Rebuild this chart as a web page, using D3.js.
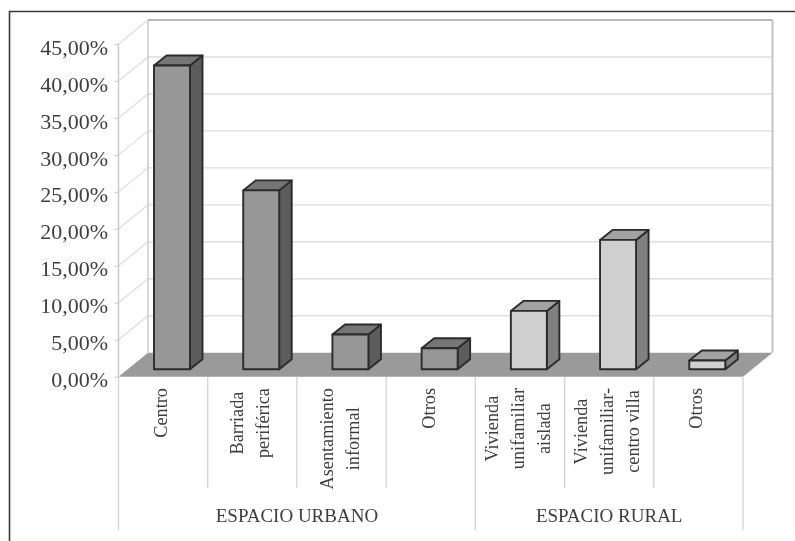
<!DOCTYPE html>
<html><head><meta charset="utf-8">
<script src="https://cdnjs.cloudflare.com/ajax/libs/d3/7.8.5/d3.min.js"></script>
<style>html,body{margin:0;padding:0;background:#fff}svg{display:block;filter:blur(.45px)}text{font-family:"Liberation Serif",serif;fill:#3e3e3e}</style>
</head><body><svg id="c" width="795" height="541"></svg>
<script>
const categories = [["Centro"],["Barriada","periférica"],["Asentamiento","informal"],["Otros"],["Vivienda","unifamiliar","aislada"],["Vivienda","unifamiliar-","centro villa"],["Otros"]];
const values = [41.1,24.2,4.7,2.85,7.9,17.5,1.2];
const groupNames = ["ESPACIO URBANO","ESPACIO RURAL"];
const groupSizes = [4,3];
const isRural = [false,false,false,false,true,true,true];
const yTicks = [0,5,10,15,20,25,30,35,40,45];

const svg = d3.select("#c");
const W=795,H=541, dx=29.5, dy=-24, bx=12.5, by=-10;
const x = d3.scaleBand().domain(d3.range(categories.length)).range([118.5,743]);
const y = d3.scaleLinear().domain([0,45]).range([376.7,44]);
const fmt = v => v.toFixed(2).replace(".",",")+"%";

// frame
svg.append("path").attr("d",`M9.5,${H}V11.5H${W}`).attr("fill","none").attr("stroke","#3a3a3a").attr("stroke-width",1.6);

// walls
const g = svg.append("g");
g.selectAll(".gl").data(yTicks.filter(d=>d>0 && d<45)).join("line")
  .attr("x1",x.range()[0]+dx).attr("x2",x.range()[1]+dx)
  .attr("y1",d=>y(d)+dy).attr("y2",d=>y(d)+dy).attr("stroke","#dedede").attr("stroke-width",1.4);
g.selectAll(".dg").data(yTicks.filter(d=>d>0)).join("line")
  .attr("x1",x.range()[0]).attr("x2",x.range()[0]+dx)
  .attr("y1",d=>y(d)).attr("y2",d=>y(d)+dy).attr("stroke","#dcdcdc").attr("stroke-width",1.2);
g.append("line").attr("x1",x.range()[0]+dx).attr("x2",x.range()[1]+dx).attr("y1",y(45)+dy).attr("y2",y(45)+dy).attr("stroke","#b8b8b8").attr("stroke-width",2);
g.append("line").attr("x1",x.range()[0]+dx).attr("x2",x.range()[0]+dx).attr("y1",y(45)+dy).attr("y2",y(0)+dy).attr("stroke","#c8c8c8").attr("stroke-width",1.4);
g.append("line").attr("x1",x.range()[1]+dx).attr("x2",x.range()[1]+dx).attr("y1",y(45)+dy).attr("y2",y(0)+dy).attr("stroke","#c4c4c4").attr("stroke-width",2);

// floor
const [x0,x1]=x.range();
svg.append("path").attr("d",`M${x0},${y(0)}L${x0+dx},${y(0)+dy}H${x1+dx}L${x1},${y(0)}Z`).attr("fill","#9a9a9a");

// y axis
const ax = svg.append("g").attr("transform",`translate(${x0},0)`)
  .call(d3.axisLeft(y).tickValues(yTicks).tickFormat(fmt).tickSize(4).tickPadding(6.5));
ax.select(".domain").attr("stroke","#c8c8c8").attr("stroke-width",1.4).attr("d",`M0,${y(45)}V${y(0)}`);
ax.selectAll(".tick line").attr("stroke","#c8c8c8");
ax.selectAll("text").attr("font-size",22).attr("font-family",'"Liberation Serif",serif').attr("fill","#3e3e3e").attr("dy","0.46em");

// bars
const barW=36, barOff=35.5, baseLift=7.4;
const bars = svg.selectAll(".bar").data(values).join("g").attr("class","bar")
  .attr("stroke","#2b2b2b").attr("stroke-width",1.9).attr("stroke-linejoin","round");
const barLeft=(d,i)=>x(i)+barOff, barTop=d=>y(d)-baseLift, barBase=y(0)-baseLift;
bars.append("path").attr("d",(d,i)=>`M${barLeft(d,i)+barW},${barTop(d)}l${bx},${by}V${barBase+by}l${-bx},${-by}Z`)
  .attr("fill",(d,i)=>isRural[i]?"#808080":"#5c5c5c");
bars.append("path").attr("d",(d,i)=>`M${barLeft(d,i)},${barTop(d)}l${bx},${by}h${barW}l${-bx},${-by}Z`)
  .attr("fill",(d,i)=>isRural[i]?"#a2a2a2":"#767676");
bars.append("rect").attr("x",barLeft).attr("y",barTop).attr("width",barW).attr("height",d=>barBase-barTop(d))
  .attr("fill",(d,i)=>isRural[i]?"#cfcfcf":"#979797");

// category dividers
const dividerStroke="#d2d2d2";
const groupEnds=d3.cumsum(groupSizes);
const longEdges=[0,...groupEnds];
const allEdges=d3.range(categories.length+1);
svg.selectAll(".dv").data(allEdges).join("line")
  .attr("x1",i=>x0+i*x.step()).attr("x2",i=>x0+i*x.step())
  .attr("y1",y(0)).attr("y2",i=>longEdges.includes(i)?530:488)
  .attr("stroke",dividerStroke).attr("stroke-width",1.3);

// category labels
const lineGap=26, labelTop=388;
categories.forEach((lines,i)=>{
  const cx=x(i)+x.bandwidth()/2-2;
  const gl=svg.append("g");
  const ts=gl.selectAll("text").data(lines).join("text")
    .attr("font-size",18.3).attr("text-anchor","middle").attr("dominant-baseline","central").text(d=>d);
  const maxLen=d3.max(ts.nodes(),n=>n.getComputedTextLength());
  const cy=labelTop+maxLen/2;
  ts.attr("transform",(d,k)=>`translate(${cx+(k-(lines.length-1)/2)*lineGap},${cy}) rotate(-90)`);
});

// group labels
let start=0;
groupNames.forEach((n,k)=>{
  const end=start+groupSizes[k];
  svg.append("text").attr("x",x0+(start+end)/2*x.step()).attr("y",521.5)
    .attr("text-anchor","middle").attr("font-size",19).text(n);
  start=end;
});
</script></body></html>
